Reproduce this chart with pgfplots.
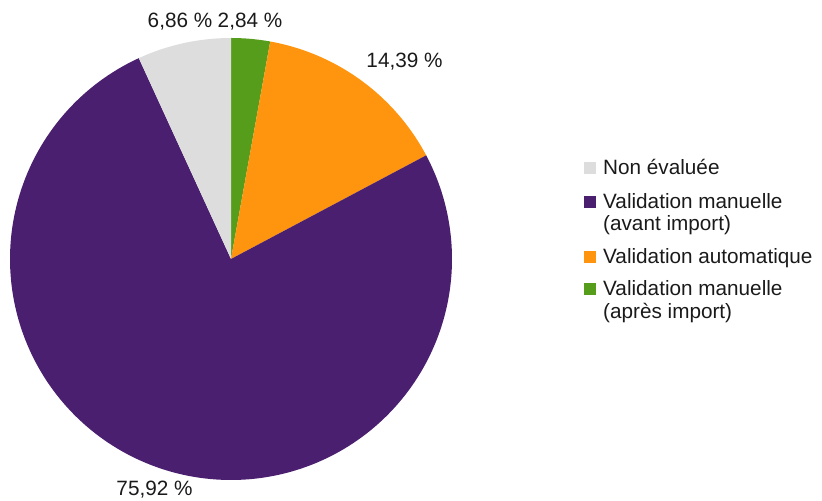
\documentclass[border=0pt]{standalone}
\usepackage{pgfplots}
\pgfplotsset{compat=1.18}
\usepackage{fontspec}
\setmainfont{Liberation Sans}
\definecolor{cgray}{HTML}{DDDDDD}
\definecolor{cpurple}{HTML}{4B1F6F}
\definecolor{corange}{HTML}{FF950E}
\definecolor{cgreen}{HTML}{579D1C}
\definecolor{ctext}{HTML}{1A1A1A}
% slice values (percent), clockwise from 12 o'clock
\def\vGreen{2.84}
\def\vOrange{14.39}
\def\vPurple{75.92}
\def\vGray{6.86}
\newcommand\lf{\fontsize{20.8}{22}\selectfont}
\begin{document}
\begin{tikzpicture}
\pgfmathsetmacro{\aA}{90}
\pgfmathsetmacro{\aB}{90-3.6*\vGreen}
\pgfmathsetmacro{\aC}{\aB-3.6*\vOrange}
\pgfmathsetmacro{\aD}{\aC-3.6*\vPurple}
\pgfmathsetmacro{\aE}{\aD-3.6*\vGray}
\begin{axis}[
  width=822bp, height=501bp, scale only axis,
  xmin=0, xmax=822, ymin=0, ymax=501,
  hide axis, clip=false,
]
\path (rel axis cs:0,0) (rel axis cs:1,1);
\addplot[fill=cgreen, draw=none, domain=\aB:\aA, samples=30, variable=\t]
  ({231+221*cos(\t)},{242+221*sin(\t)}) -- (axis cs:231,242) -- cycle;
\addplot[fill=corange, draw=none, domain=\aC:\aB, samples=60, variable=\t]
  ({231+221*cos(\t)},{242+221*sin(\t)}) -- (axis cs:231,242) -- cycle;
\addplot[fill=cpurple, draw=none, domain=\aD:\aC, samples=240, variable=\t]
  ({231+221*cos(\t)},{242+221*sin(\t)}) -- (axis cs:231,242) -- cycle;
\addplot[fill=cgray, draw=none, domain=\aE:\aD, samples=30, variable=\t]
  ({231+221*cos(\t)},{242+221*sin(\t)}) -- (axis cs:231,242) -- cycle;
% value labels
\node[anchor=base, inner sep=0pt, text=ctext, font=\lf] at (axis cs:180,473) {6,86 \%};
\node[anchor=base, inner sep=0pt, text=ctext, font=\lf] at (axis cs:250,473) {2,84 \%};
\node[anchor=base, inner sep=0pt, text=ctext, font=\lf] at (axis cs:404.5,433) {14,39 \%};
\node[anchor=base, inner sep=0pt, text=ctext, font=\lf] at (axis cs:154.5,6) {75,92 \%};
% legend
\fill[cgray]   (axis cs:584,339) rectangle (axis cs:596,327);
\fill[cpurple] (axis cs:584,305) rectangle (axis cs:596,293);
\fill[corange] (axis cs:584,250) rectangle (axis cs:596,238);
\fill[cgreen]  (axis cs:584,218) rectangle (axis cs:596,206);
\node[anchor=base west, inner sep=0pt, text=ctext, font=\lf] at (axis cs:603,326) {Non évaluée};
\node[anchor=base west, inner sep=0pt, text=ctext, font=\lf] at (axis cs:603,292) {Validation manuelle};
\node[anchor=base west, inner sep=0pt, text=ctext, font=\lf] at (axis cs:603,270) {(avant import)};
\node[anchor=base west, inner sep=0pt, text=ctext, font=\lf] at (axis cs:603,237) {Validation automatique};
\node[anchor=base west, inner sep=0pt, text=ctext, font=\lf] at (axis cs:603,205) {Validation manuelle};
\node[anchor=base west, inner sep=0pt, text=ctext, font=\lf] at (axis cs:603,182) {(après import)};
\end{axis}
\end{tikzpicture}
\end{document}
